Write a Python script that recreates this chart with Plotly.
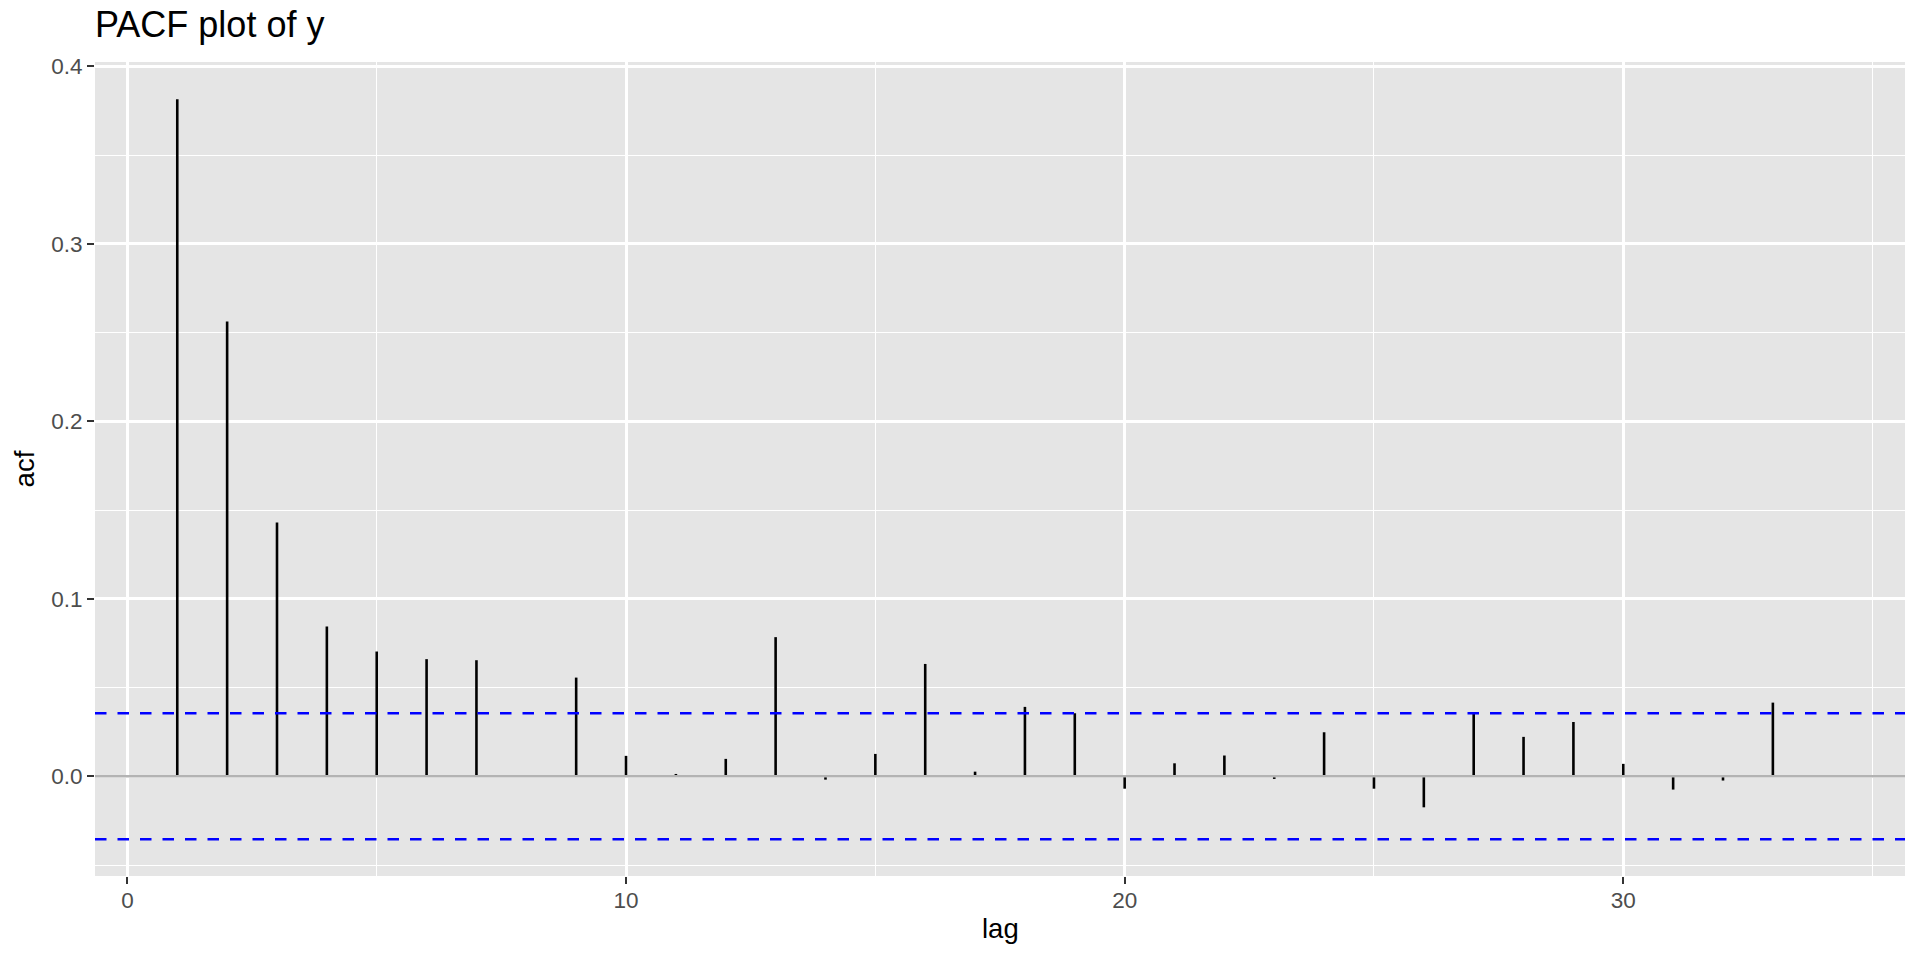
import plotly.graph_objects as go

# ---- data ----
lags = list(range(1, 35))
pacf = [0.3815, 0.2563, 0.1430, 0.0844, 0.0703, 0.0660, 0.0654, 0.0004,
        0.0556, 0.0115, 0.0013, 0.0098, 0.0784, -0.0019, 0.0126, 0.0633,
        0.0026, 0.0391, 0.0355, -0.0070, 0.0073, 0.0117, -0.0015, 0.0248,
        -0.0070, -0.0175, 0.0357, 0.0222, 0.0306, 0.0070, -0.0075, -0.0024,
        0.0415, -0.0004]
ci = 0.0355
x_ticks = [0, 10, 20, 30]
y_ticks = [0.0, 0.1, 0.2, 0.3, 0.4]
y_tick_labels = ["0.0", "0.1", "0.2", "0.3", "0.4"]
title_text = "PACF plot of y"
x_title = "lag"
y_title = "acf"

FONT = "Liberation Sans, Arial, Helvetica, sans-serif"

# build stem segments from the data
sx, sy = [], []
for lag, v in zip(lags, pacf):
    sx += [lag, lag, None]
    sy += [0, v, None]

x_range = [-0.65, 35.65]
y_range = [-0.0562, 0.4025]

fig = go.Figure()

fig.add_trace(go.Scatter(x=sx, y=sy, mode="lines",
                         line=dict(color="black", width=2.6),
                         hoverinfo="skip", showlegend=False))
# zero line
fig.add_trace(go.Scatter(x=x_range, y=[0, 0], mode="lines",
                         line=dict(color="#B3B3B3", width=2.6),
                         hoverinfo="skip", showlegend=False))
# confidence bounds
for b in (ci, -ci):
    fig.add_trace(go.Scatter(x=x_range, y=[b, b], mode="lines",
                             line=dict(color="blue", width=2.6, dash="11.5px,11px"),
                             hoverinfo="skip", showlegend=False))

fig.update_layout(
    width=1920, height=960, autosize=False,
    margin=dict(l=95, r=15, t=62, b=84, autoexpand=False),
    paper_bgcolor="white",
    plot_bgcolor="#E5E5E5",
    font=dict(family=FONT, color="#4D4D4D", size=22),
    title=dict(text=title_text, x=95 / 1920, xanchor="left", xref="container",
               y=1 - 24 / 960, yanchor="middle", yref="container",
               font=dict(family=FONT, size=36, color="black")),
    xaxis=dict(range=x_range, tickvals=x_ticks, ticktext=[str(t) for t in x_ticks],
               automargin=False, ticklabelstandoff=-3,
               showgrid=True, gridcolor="white", gridwidth=2.6,
               minor=dict(dtick=5, tick0=0, showgrid=True, gridcolor="white", gridwidth=1.3),
               ticks="outside", ticklen=7, tickwidth=2.2, tickcolor="#333333",
               tickfont=dict(size=22.5, color="#4D4D4D", family=FONT),
               zeroline=False, showline=False, fixedrange=True),
    yaxis=dict(range=y_range, tickvals=y_ticks, ticktext=y_tick_labels,
               automargin=False,
               showgrid=True, gridcolor="white", gridwidth=2.6,
               minor=dict(dtick=0.05, tick0=0, showgrid=True, gridcolor="white", gridwidth=1.3),
               ticks="outside", ticklen=7, tickwidth=2.2, tickcolor="#333333",
               tickfont=dict(size=22.5, color="#4D4D4D", family=FONT),
               zeroline=False, showline=False, fixedrange=True),
    annotations=[
        dict(text=x_title, xref="paper", yref="paper", x=0.5, y=-0.0651,
             xanchor="center", yanchor="middle", showarrow=False,
             font=dict(family=FONT, size=27.5, color="black")),
        dict(text=y_title, xref="paper", yref="paper", x=-0.039, y=0.5,
             xanchor="center", yanchor="middle", showarrow=False, textangle=-90,
             font=dict(family=FONT, size=27.5, color="black")),
    ],
)

fig.write_html("out.html", config={"displayModeBar": False},
               post_script="document.body.style.margin='0px';document.body.style.overflow='hidden';")
